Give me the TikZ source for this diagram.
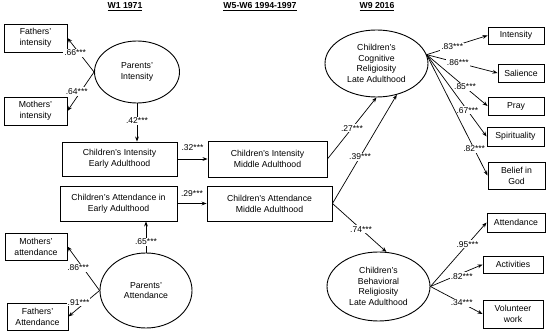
\documentclass[tikz,border=0pt]{standalone}
\usepackage{fontspec}
\setmainfont{Liberation Sans}
\usetikzlibrary{arrows.meta,shapes.geometric}

\begin{document}
\begin{tikzpicture}[x=1pt,y=-1pt,>={Stealth[length=5pt,width=3.8pt]},
  obs/.style={draw,line width=0.9pt,inner sep=1pt,align=center,font=\fontsize{8.7}{11}\selectfont},
  lat/.style={draw,ellipse,line width=0.9pt,inner sep=0pt,align=center,font=\fontsize{8.7}{10.7}\selectfont},
  lbl/.style={fill=white,inner sep=1pt,font=\fontsize{8.5}{9}\selectfont},
  head/.style={font=\bfseries\fontsize{8.7}{10}\selectfont},
  path/.style={->,line width=0.7pt}]
\useasboundingbox (0,0) rectangle (550,334);
% wave headings
\node[head] (w1) at (125,7) {\underline{W1 1971}};
\node[head] (w5) at (260,7) {\underline{W5-W6 1994-1997}};
\node[head] (w9) at (377,7) {\underline{W9 2016}};
% W1: parents
\node[lat,minimum width=85,minimum height=62] (pint) at (137,72) {Parents’\\Intensity};
\node[obs,minimum width=63,minimum height=28] (fint) at (35.5,38) {Fathers’\\intensity};
\node[obs,minimum width=63,minimum height=28] (mint) at (35.5,111) {Mothers’\\intensity};
\node[lat,minimum width=92,minimum height=75] (patt) at (146,290.5) {Parents’\\Attendance};
\node[obs,minimum width=62,minimum height=27] (matt) at (36,246.5) {Mothers’\\attendance};
\node[obs,minimum width=61,minimum height=27] (fatt) at (37.5,316.5) {Fathers’\\Attendance};
% children, early and middle adulthood
\node[obs,minimum width=115,minimum height=34] (cint1) at (119.5,159) {Children’s Intensity\\Early Adulthood};
\node[obs,minimum width=117,minimum height=35] (catt1) at (118.5,203.5) {Children’s Attendance in\\Early Adulthood};
\node[obs,minimum width=119,minimum height=36] (cint2) at (267.5,159) {Children’s Intensity\\Middle Adulthood};
\node[obs,minimum width=125,minimum height=35] (catt2) at (269.5,203.5) {Children’s Attendance\\Middle Adulthood};
% W9: late adulthood
\node[lat,minimum width=103,minimum height=67] (cog) at (376.5,63.5) {Children’s\\Cognitive\\Religiosity\\Late Adulthood};
\node[lat,minimum width=103,minimum height=69] (beh) at (378.5,286.5) {Children’s\\Behavioral\\Religiosity\\Late Adulthood};
\node[obs,minimum width=56,minimum height=17] (int) at (516,35.5) {Intensity};
\node[obs,minimum width=46,minimum height=18] (sal) at (521,73) {Salience};
\node[obs,minimum width=56,minimum height=18] (pray) at (516,106) {Pray};
\node[obs,minimum width=57,minimum height=19] (spir) at (515.5,136.5) {Spirituality};
\node[obs,minimum width=57,minimum height=27] (bel) at (516.5,175.5) {Belief in\\God};
\node[obs,minimum width=58,minimum height=19] (att) at (516,222.5) {Attendance};
\node[obs,minimum width=60,minimum height=17] (act) at (513,264.5) {Activities};
\node[obs,minimum width=60,minimum height=28] (vol) at (513,314) {Volunteer\\work};
% parent loadings
\draw[path] (pint.west) -- node[lbl,pos=0.56,xshift=-4]{.66***} (fint.east);
\draw[path] (pint.west) -- node[lbl,pos=0.5,xshift=-4]{.64***} (mint.east);
\draw[path] (patt.west) -- node[lbl,pos=0.51,xshift=-5]{.86***} (matt.east);
\draw[path] (patt.west) -- node[lbl,pos=0.45,xshift=-7]{.91***} (fatt.east);
% structural paths
\draw[path] (pint.south) -- node[lbl,pos=0.45]{.42***} (pint.south |- cint1.north);
\draw[path] (patt.north) -- node[lbl,pos=0.35]{.65***} (patt.north |- catt1.south);
\draw[path] (cint1.east) -- node[lbl,midway,above=7pt]{.32***} (cint2.west);
\draw[path] (catt1.east) -- node[lbl,midway,above=6pt]{.29***} (catt2.west);
\draw[path] (cint2.east) -- node[lbl,pos=0.5]{.27***} (cog.south);
\draw[path] (catt2.east) -- node[lbl,pos=0.43]{.39***} (cog.-57);
\draw[path] (catt2.east) -- node[lbl,pos=0.53]{.74***} (beh.77);
% late adulthood loadings
\draw[path] (cog.10) -- node[lbl,pos=0.42]{.83***} (int.west);
\draw[path] (cog.10) -- node[lbl,pos=0.44]{.86***} (sal.west);
\draw[path] (cog.10) -- node[lbl,pos=0.63]{.85***} (pray.west);
\draw[path] (cog.10) -- node[lbl,pos=0.68]{.67***} (spir.west);
\draw[path] (cog.10) -- node[lbl,pos=0.78]{.82***} (bel.west);
\draw[path] (beh.east) -- node[lbl,pos=0.66]{.95***} (att.west);
\draw[path] (beh.east) -- node[lbl,pos=0.6,yshift=-3]{.82***} (act.west);
\draw[path] (beh.east) -- node[lbl,pos=0.6]{.34***} (vol.west);
\end{tikzpicture}
\end{document}
